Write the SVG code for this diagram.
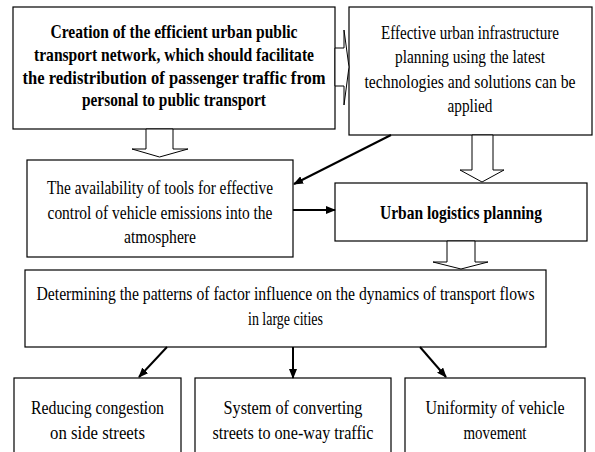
<svg xmlns="http://www.w3.org/2000/svg" width="595" height="452" viewBox="0 0 595 452">
<defs>
<marker id="ah" markerWidth="10" markerHeight="8" refX="9" refY="4" orient="auto" markerUnits="userSpaceOnUse">
<path d="M0,0 L10,4 L0,8 Z" fill="#000"/>
</marker>
<style>
.box{fill:#fff;stroke:#000;stroke-width:1.2}
.t{font-family:"Liberation Serif","Times New Roman",serif;font-size:19px;fill:#000;text-anchor:middle}
.b{font-weight:bold}
.hollow{fill:#fff;stroke:#000;stroke-width:1}
.line{fill:none;stroke:#000;stroke-width:2}
</style>
</defs>
<rect width="595" height="452" fill="#fff"/>
<g id="node1">
<rect class="box" x="13" y="7" width="322" height="122"/>
<text class="t b" x="174" y="38" textLength="247" lengthAdjust="spacingAndGlyphs">Creation of the efficient urban public</text>
<text class="t b" x="174" y="61" textLength="280" lengthAdjust="spacingAndGlyphs">transport network, which should facilitate</text>
<text class="t b" x="174" y="84" textLength="303" lengthAdjust="spacingAndGlyphs">the redistribution of passenger traffic from</text>
<text class="t b" x="174" y="106" textLength="184" lengthAdjust="spacingAndGlyphs">personal to public transport</text>
</g>
<g id="node2">
<rect class="box" x="349" y="7" width="243" height="128"/>
<text class="t" x="470" y="39" textLength="178" lengthAdjust="spacingAndGlyphs">Effective urban infrastructure</text>
<text class="t" x="470" y="63" textLength="150" lengthAdjust="spacingAndGlyphs">planning using the latest</text>
<text class="t" x="470" y="88" textLength="211" lengthAdjust="spacingAndGlyphs">technologies and solutions can be</text>
<text class="t" x="470" y="112" textLength="45" lengthAdjust="spacingAndGlyphs">applied</text>
</g>
<g id="node3">
<rect class="box" x="27" y="160" width="266" height="97"/>
<text class="t" x="160" y="194" textLength="226" lengthAdjust="spacingAndGlyphs">The availability of tools for effective</text>
<text class="t" x="160" y="219" textLength="225" lengthAdjust="spacingAndGlyphs">control of vehicle emissions into the</text>
<text class="t" x="160" y="243" textLength="72" lengthAdjust="spacingAndGlyphs">atmosphere</text>
</g>
<g id="node4">
<rect class="box" x="335" y="183" width="252" height="58"/>
<text class="t b" x="461" y="219" textLength="162" lengthAdjust="spacingAndGlyphs">Urban logistics planning</text>
</g>
<g id="node5">
<rect class="box" x="25" y="270" width="521" height="77"/>
<text class="t" x="285.5" y="300" textLength="498" lengthAdjust="spacingAndGlyphs">Determining the patterns of factor influence on the dynamics of transport flows</text>
<text class="t" x="285.5" y="325" textLength="75" lengthAdjust="spacingAndGlyphs">in large cities</text>
</g>
<g id="node6">
<rect class="box" x="14" y="378" width="167" height="90"/>
<text class="t" x="97.5" y="414" textLength="133" lengthAdjust="spacingAndGlyphs">Reducing congestion</text>
<text class="t" x="97.5" y="439" textLength="95" lengthAdjust="spacingAndGlyphs">on side streets</text>
</g>
<g id="node7">
<rect class="box" x="195" y="378" width="196" height="90"/>
<text class="t" x="293" y="414" textLength="139" lengthAdjust="spacingAndGlyphs">System of converting</text>
<text class="t" x="293" y="439" textLength="161" lengthAdjust="spacingAndGlyphs">streets to one-way traffic</text>
</g>
<g id="node8">
<rect class="box" x="405" y="378" width="180" height="90"/>
<text class="t" x="495" y="414" textLength="139" lengthAdjust="spacingAndGlyphs">Uniformity of vehicle</text>
<text class="t" x="495" y="439" textLength="63" lengthAdjust="spacingAndGlyphs">movement</text>
</g>
<g id="connectors">
<polygon class="hollow" points="335,48 344,48 344,30 349,67 344,105 344,86 335,86"/>
<polygon class="hollow" points="146,129 173,129 173,149 188,149 159.5,157 132,149 146,149"/>
<polygon class="hollow" points="472,135 493,135 493,170 504,170 482,182 460,170 472,170"/>
<polygon class="hollow" points="447,241 475,241 475,262 488,262 461,269 433,262 447,262"/>
<line class="line" x1="391" y1="135" x2="294" y2="184" marker-end="url(#ah)"/>
<line class="line" x1="293" y1="210" x2="335" y2="210" marker-end="url(#ah)"/>
<line class="line" x1="167" y1="347" x2="139" y2="377" marker-end="url(#ah)"/>
<line class="line" x1="293" y1="347" x2="293" y2="378" marker-end="url(#ah)"/>
<line class="line" x1="420" y1="347" x2="446" y2="377" marker-end="url(#ah)"/>
</g>
</svg>
